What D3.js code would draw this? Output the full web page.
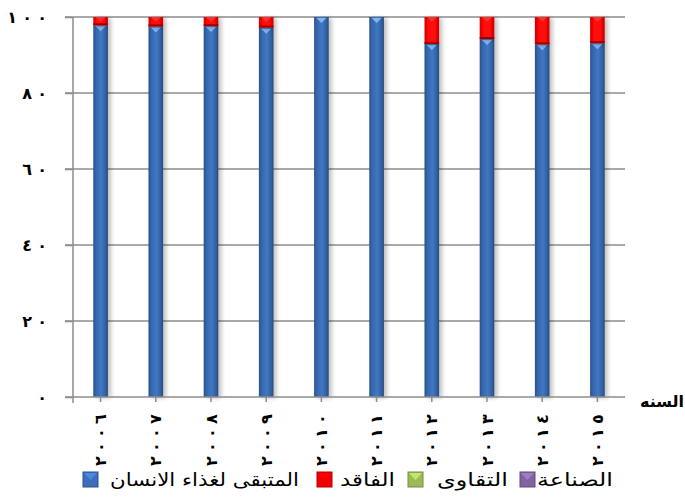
<!DOCTYPE html>
<html><head><meta charset="utf-8">
<script src="https://cdn.jsdelivr.net/npm/d3@7/dist/d3.min.js"></script>
<style>body{margin:0;background:#fff}svg{display:block}</style>
</head><body><svg id="c" width="685" height="498"></svg>
<script>
const years = ["٢٠٠٦","٢٠٠٧","٢٠٠٨","٢٠٠٩","٢٠١٠","٢٠١١","٢٠١٢","٢٠١٣","٢٠١٤","٢٠١٥"];
const remaining = [97.8, 97.5, 97.6, 97.2, 100, 100, 92.9, 94.2, 92.8, 93.1];
const loss = [2.2, 2.5, 2.4, 2.8, 0, 0, 7.1, 5.8, 7.2, 6.9];
const seeds = [0,0,0,0,0,0,0,0,0,0];
const industry = [0,0,0,0,0,0,0,0,0,0];
const yTicks = [0,20,40,60,80,100];
const yTickLabels = ["٠","٢٠","٤٠","٦٠","٨٠","١٠٠"];
const seriesNames = ["المتبقى لغذاء الانسان","الفاقد","التقاوى","الصناعة"];
const seriesColors = ["#3b6fba","#f00000","#9bbb59","#8064a2"];
const xTitle = "السنه";

const svg = d3.select("#c");
const m = {l:73, r:625, t:17, b:397};
const x = d3.scaleBand().domain(years).range([m.l, m.r]).paddingInner(0.735).paddingOuter(0.3675);
const y = d3.scaleLinear().domain([0,100]).range([m.b, m.t]);

const defs = svg.append("defs");
function grad(id, stops){
  const g = defs.append("linearGradient").attr("id", id).attr("x1","0").attr("x2","1").attr("y1","0").attr("y2","0");
  stops.forEach(s => g.append("stop").attr("offset", s[0]).attr("stop-color", s[1]));
}
grad("gBlue", [[0,"#2a5188"],[0.2,"#3767ad"],[0.55,"#3f78c4"],[0.85,"#335f9e"],[1,"#27497a"]]);
grad("gRed", [[0,"#d80000"],[0.3,"#ff0a0a"],[0.7,"#ff0a0a"],[1,"#c80000"]]);
const sh = defs.append("filter").attr("id","sh").attr("x","-50%").attr("width","200%");
sh.append("feGaussianBlur").attr("in","SourceAlpha").attr("stdDeviation","2");
sh.append("feOffset").attr("dx","3").attr("dy","1").attr("result","o");
sh.append("feComponentTransfer").append("feFuncA").attr("type","linear").attr("slope","0.25");
const mg = sh.append("feMerge"); mg.append("feMergeNode"); mg.append("feMergeNode").attr("in","SourceGraphic");

const digitFont = "'DejaVu Sans',sans-serif";

// horizontal gridlines
svg.append("g").selectAll("line").data(yTicks.filter(d=>d>0)).join("line")
  .attr("x1", m.l-8).attr("x2", m.r).attr("y1", d=>y(d)).attr("y2", d=>y(d))
  .attr("stroke","#8c8c8c").attr("stroke-width",1.5);

// y axis
const ya = svg.append("g").attr("transform",`translate(${m.l},0)`)
  .call(d3.axisLeft(y).tickValues(yTicks).tickSize(8).tickFormat(""));
ya.select(".domain").attr("stroke","#8c8c8c").attr("stroke-width",1.5).attr("d",`M0,${m.t}V${m.b+6}`);
ya.selectAll(".tick line").attr("stroke","#8c8c8c").attr("stroke-width",1.5);
ya.selectAll(".tick text").each(function(d){
  const lab = yTickLabels[yTicks.indexOf(d)];
  const chars = Array.from(lab);
  const t = d3.select(this).attr("text-anchor","middle").attr("dy","0.32em")
    .style("font-family",digitFont).style("font-weight","bold").style("font-size","16px").attr("fill","#000");
  chars.forEach((c,j)=>{
    t.append("tspan").attr("x", -31 - 15*(chars.length-1-j)).text(c);
  });
});

// bars
const stackData = years.map((yr,i)=>({year:yr, s0:remaining[i], s1:loss[i], s2:seeds[i], s3:industry[i]}));
const stack = d3.stack().keys(["s0","s1","s2","s3"])(stackData);
const fills = ["url(#gBlue)","url(#gRed)",seriesColors[2],seriesColors[3]];
const bw = x.bandwidth();
stack.forEach((layer, k) => {
  const g = svg.append("g").attr("filter","url(#sh)");
  layer.forEach(d => {
    if (d[1]-d[0] <= 0) return;
    g.append("rect").attr("x", x(d.data.year)).attr("y", y(d[1])).attr("width", bw)
      .attr("height", y(d[0]) - y(d[1])).attr("fill", fills[k]);
    if (k===0){
      const cx = x(d.data.year)+bw/2, ty = y(d[1]);
      g.append("path").attr("d",`M${cx-5},${ty+1}L${cx+5},${ty+1}L${cx},${ty+6}Z`).attr("fill","#7fb6f0");
    }
    if (k===1){
      g.append("rect").attr("x", x(d.data.year)).attr("y", y(d[0])-2).attr("width", bw).attr("height",2).attr("fill","#a00000");
      const cx = x(d.data.year)+bw/2, ty = y(d[1]);
      g.append("path").attr("d",`M${cx-5},${ty}L${cx+5},${ty}L${cx},${ty+5}Z`).attr("fill","#ff3030");
    }
  });
});

// x axis
const xa = svg.append("g").attr("transform",`translate(0,${m.b})`)
  .call(d3.axisBottom(x).tickSize(5).tickFormat(""));
xa.select(".domain").attr("stroke","#8c8c8c").attr("stroke-width",1.5).attr("d",`M${m.l-8},0H${m.r}`);
xa.selectAll(".tick line").attr("stroke","#8c8c8c").attr("stroke-width",1.5);
xa.selectAll(".tick text").each(function(d){
  const chars = Array.from(d);
  const t = d3.select(this).attr("transform","translate(0,43) rotate(-90)").attr("y",0).attr("dy","0.35em")
    .attr("text-anchor","middle").style("font-family",digitFont)
    .style("font-weight","bold").style("font-size","16px").attr("fill","#000");
  chars.forEach((c,j)=>{
    t.append("tspan").attr("x", -21 + 14*j).text(c);
  });
});

svg.append("text").attr("x",684).attr("y",407).attr("text-anchor","end")
  .style("font-family","'DejaVu Sans',sans-serif").style("font-weight","bold").style("font-size","16px")
  .text(xTitle);

// legend
const legSq = [83, 317, 408, 520];
const legTx = [[110,299],[340,395],[437,508],[537,613]];
const lg = svg.append("g");
seriesNames.forEach((n,i)=>{
  const gx = legSq[i];
  lg.append("rect").attr("x",gx).attr("y",472).attr("width",15).attr("height",15)
    .attr("fill",seriesColors[i]).attr("stroke",d3.color(seriesColors[i]).darker(0.8)).attr("stroke-width",1);
  lg.append("path").attr("d",`M${gx+1},${473}L${gx+14},${473}L${gx+7.5},${480}Z`).attr("fill",d3.color(seriesColors[i]).brighter(0.6));
  const [a,b] = legTx[i];
  lg.append("text").attr("x",(a+b)/2).attr("y",486).attr("text-anchor","middle")
    .attr("textLength",b-a).attr("lengthAdjust","spacingAndGlyphs")
    .style("font-family","'DejaVu Sans',sans-serif").style("font-size","18px").attr("fill","#000").text(n);
});
</script></body></html>
